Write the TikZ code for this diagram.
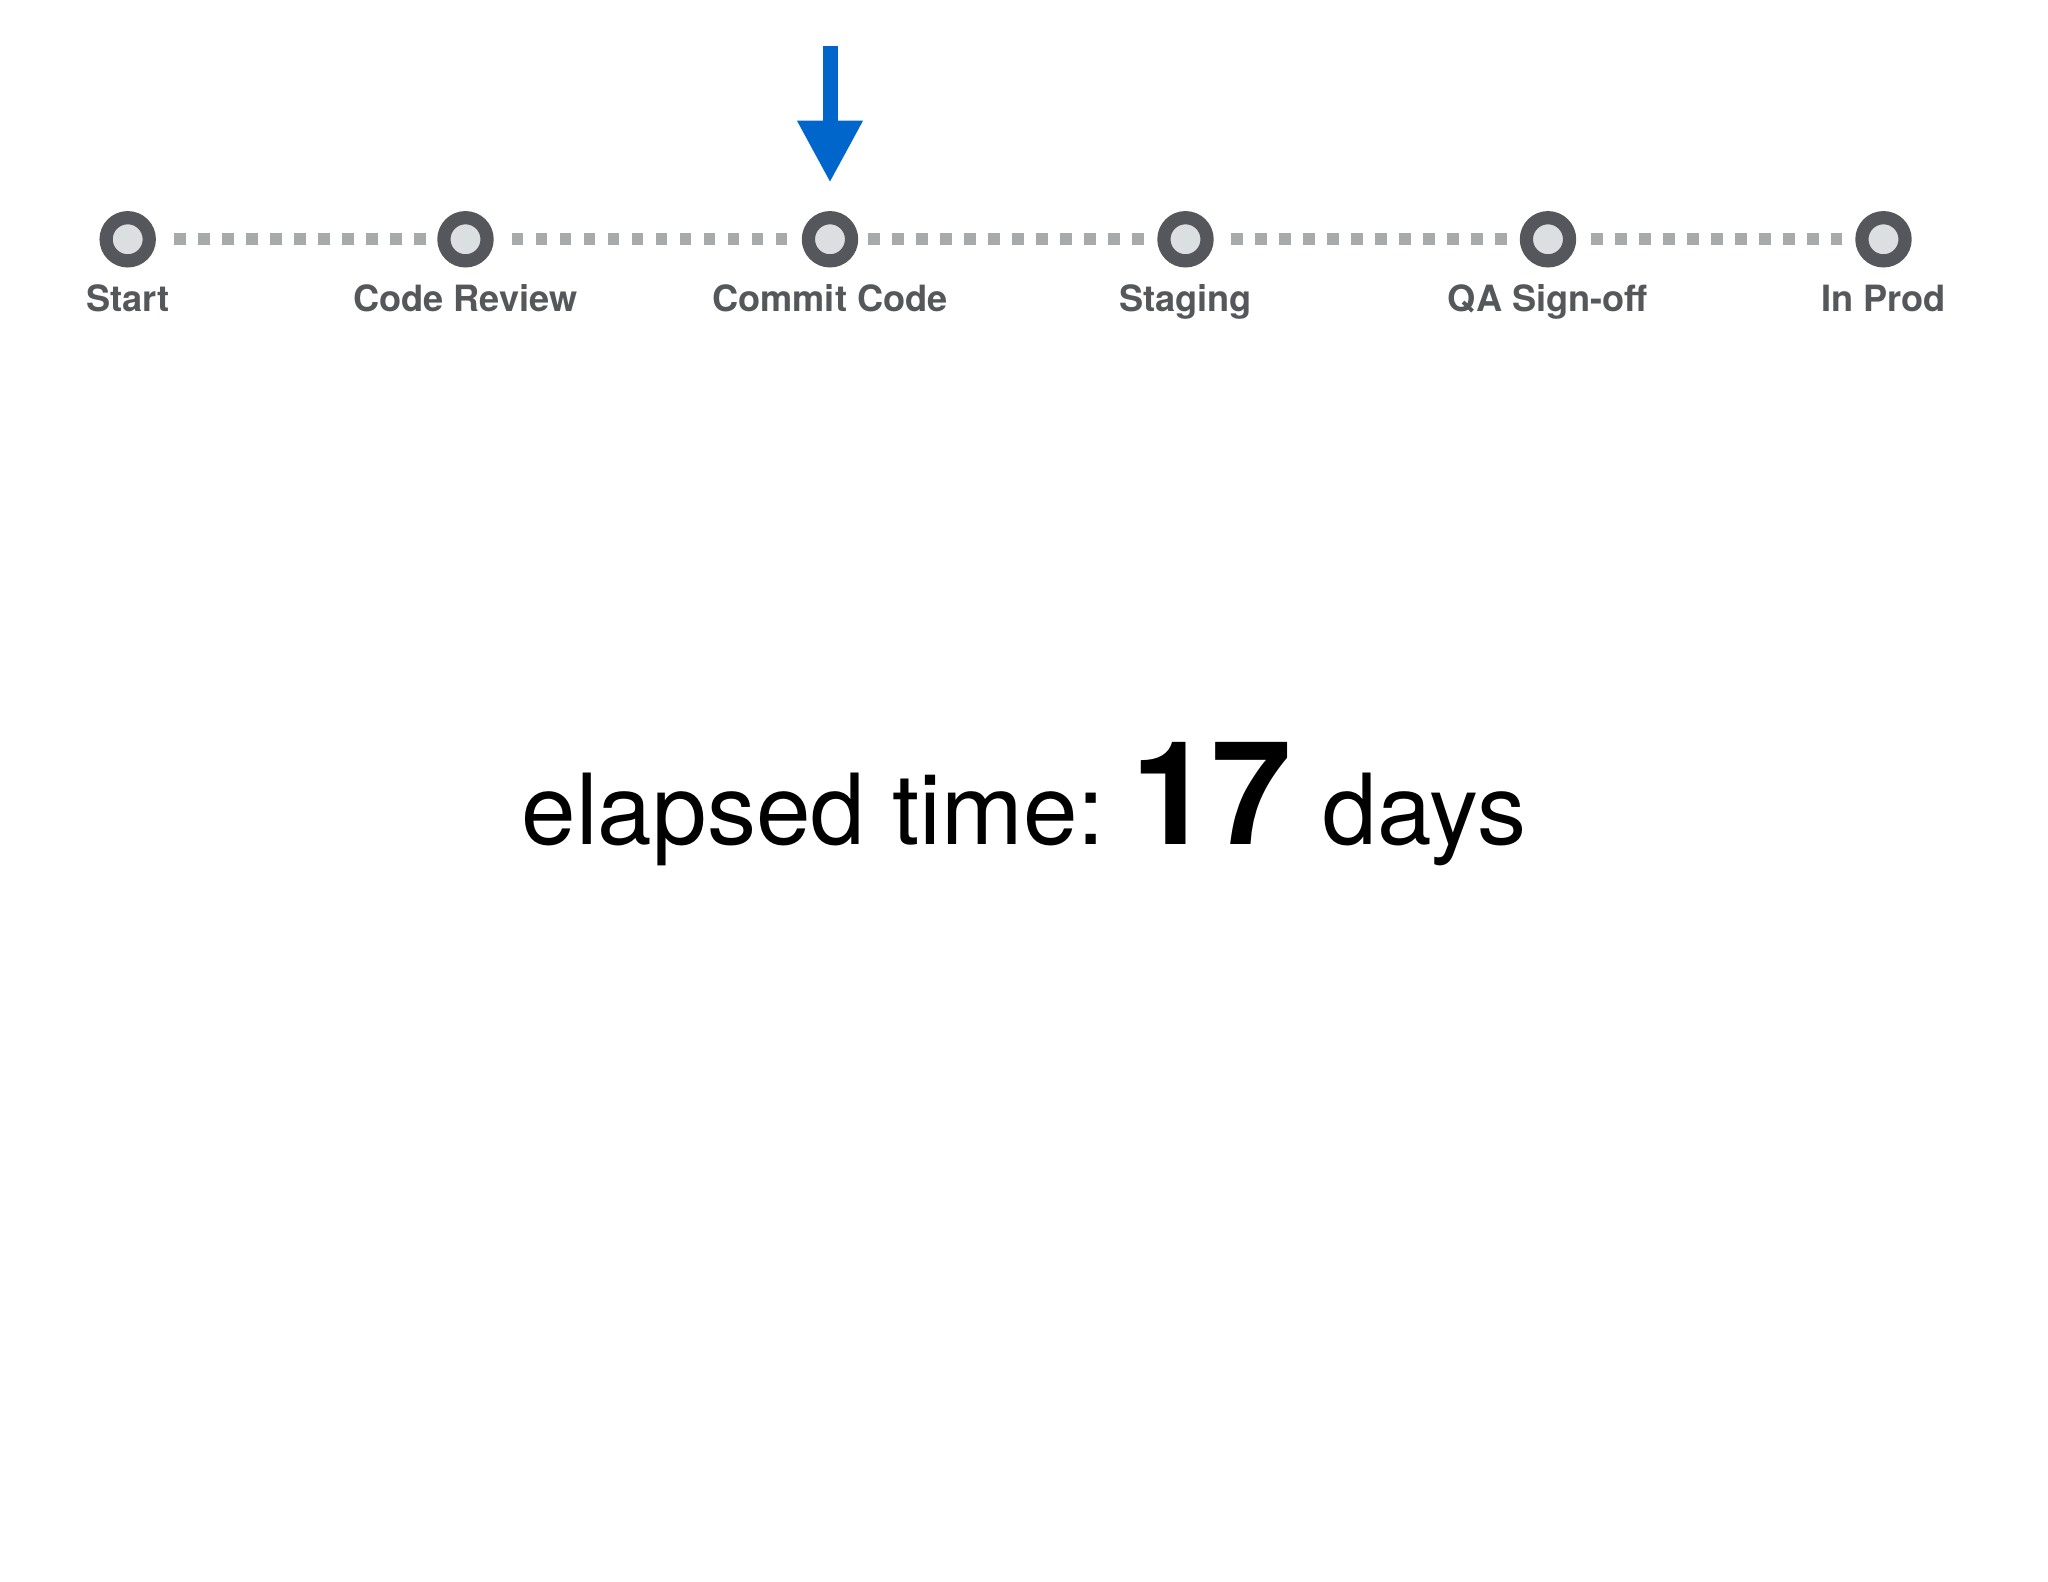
\documentclass[tikz,border=0pt]{standalone}
\usepackage{fontspec}
\usepackage{tikz}
\usetikzlibrary{arrows.meta,positioning}
\setmainfont{TeX Gyre Heros}
\definecolor{ringgray}{RGB}{85,87,92}
\definecolor{holegray}{RGB}{220,223,225}
\definecolor{dotgray}{RGB}{168,169,171}
\definecolor{labelgray}{RGB}{85,87,91}
\definecolor{pointblue}{RGB}{0,102,204}

\begin{document}
\begin{tikzpicture}[
  stage/.style={circle,draw=ringgray,fill=holegray,line width=0.132cm,minimum size=0.432cm,inner sep=0pt},
  stagename/.style={font=\bfseries\fontsize{10.3}{12}\selectfont,text=labelgray,anchor=base,inner sep=0pt},
  track/.style={dotgray,line width=0.117cm,dash pattern=on 0.117cm off 0.123cm,shorten <=0.18cm},
  pointer/.style={pointblue,line width=0.15cm,-{Triangle[width=0.614cm,length=0.62cm]},shorten >=0.284cm}
]
\useasboundingbox (0,0) rectangle (20.48,15.82);
% the stages
\node[stage] (start) at (1.277,13.427) {};
\node[stage] (review) at (4.655,13.427) {};
\node[stage] (commit) at (8.300,13.427) {};
\node[stage] (staging) at (11.855,13.427) {};
\node[stage] (qa) at (15.480,13.427) {};
\node[stage] (prod) at (18.835,13.427) {};
\node[stagename] (startname) at ([yshift=-0.724cm]start.center) {Start};
\node[stagename] (reviewname) at ([yshift=-0.724cm]review.center) {Code Review};
\node[stagename] (commitname) at ([yshift=-0.724cm]commit.center) {Commit Code};
\node[stagename] (stagingname) at ([yshift=-0.724cm]staging.center) {Staging};
\node[stagename] (qaname) at ([yshift=-0.724cm]qa.center) {QA Sign-off};
\node[stagename] (prodname) at ([yshift=-0.724cm]prod.center) {In Prod};
% dotted track between them
\draw[track,shorten >=0.117cm] (start) -- (review);
\draw[track,shorten >=0.144cm] (review) -- (commit);
\draw[track,shorten <=0.10cm,shorten >=0.134cm] (commit) -- (staging);
\draw[track,shorten <=0.172cm,shorten >=0.132cm] (staging) -- (qa);
\draw[track,shorten <=0.15cm,shorten >=0.129cm] (qa) -- (prod);
% current position
\coordinate (pointtop) at (8.300,15.36);
\draw[pointer] (pointtop) -- (commit);
\node[anchor=base,inner sep=0pt] (elapsed) at (10.24,7.377)
  {\fontsize{27.9}{32}\selectfont elapsed time:\hspace{-0.1cm} {\bfseries\fontsize{41}{48}\selectfont 17}\hspace{0.04cm} days};
\end{tikzpicture}
\end{document}
